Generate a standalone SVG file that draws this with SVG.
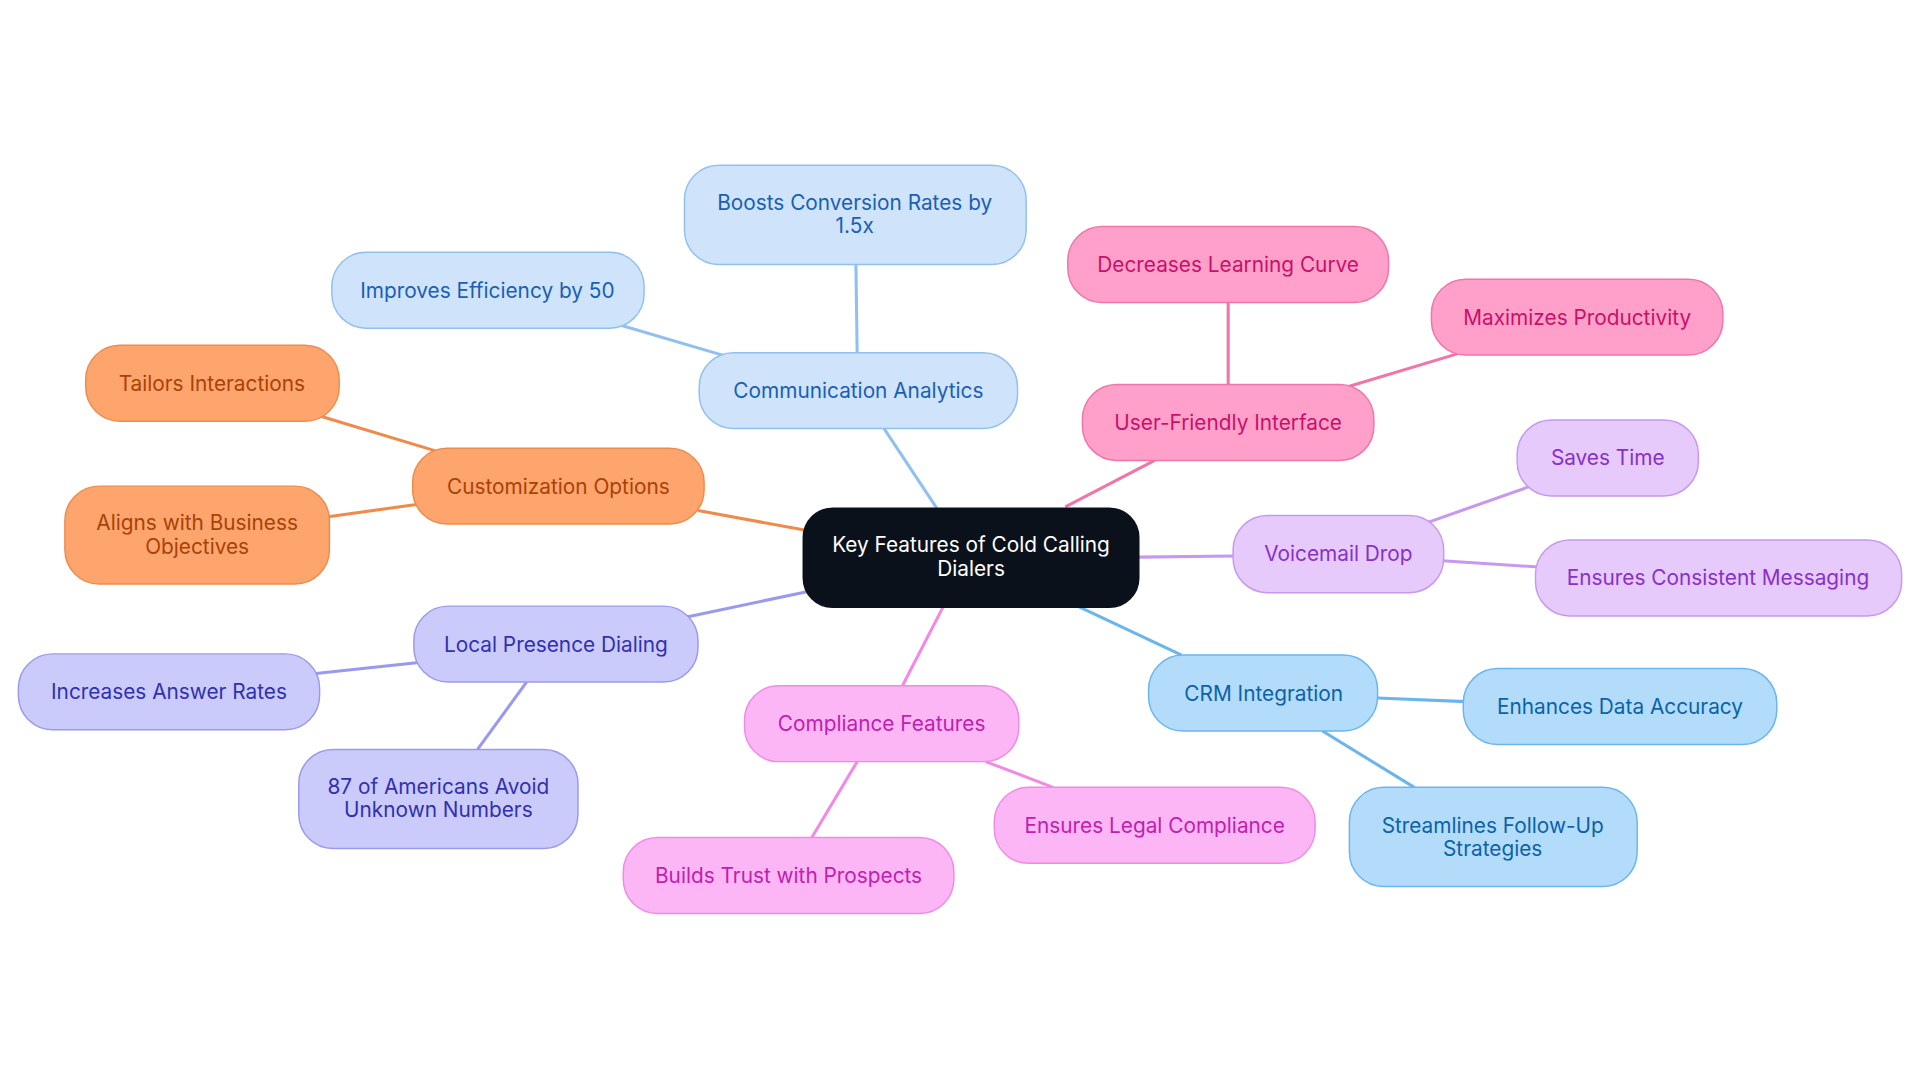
<svg xmlns="http://www.w3.org/2000/svg" width="1920" height="1083" viewBox="0 0 1920 1083">
<style>
text{font-family:Inter,"Open Sans","Liberation Sans",sans-serif;font-size:17px;text-anchor:middle;dominant-baseline:central}
.l{fill:none;stroke-width:2.5}
rect{stroke-width:1.2}
.a rect{fill:#cfe3fb;stroke:#90c0f0}.a text{fill:#1a5fb4}
.o rect{fill:#fea56d;stroke:#f08a4b}.o text{fill:#a84208}
.p rect{fill:#cbcbfb;stroke:#9999ee}.p text{fill:#3030b0}
.m rect{fill:#fdb6f5;stroke:#f08ae6}.m text{fill:#c020b0}
.c rect{fill:#b3dcfb;stroke:#6bb5ef}.c text{fill:#0b62a8}
.v rect{fill:#e6cafb;stroke:#c898f0}.v text{fill:#8a2fc8}
.u rect{fill:#fea0c9;stroke:#f075a8}.u text{fill:#c8106a}
</style>
<rect width="1920" height="1083" fill="#fff"/>
<g transform="scale(1.2245)">
<g id="connectors">
<path class="l" stroke="#90c0f0" d="M765 415L722 350M700 288L699 216M590 290L505 265"/>
<path class="l" stroke="#f08a4b" d="M658 433L570 417M355 368L262 340M340 412L268 422"/>
<path class="l" stroke="#9999ee" d="M660 483L560 504M342 541L258 550M430 557L390 612"/>
<path class="l" stroke="#f08ae6" d="M770 496L737 560M700 622L663 684M805 622L860 643"/>
<path class="l" stroke="#6bb5ef" d="M880 495L965 535M1125 570L1197 573M1080 597L1155 643"/>
<path class="l" stroke="#c898f0" d="M930 455L1008 454M1165 427L1250 397M1178 458L1256 463"/>
<path class="l" stroke="#f075a8" d="M870 414L943 376M1003 314L1003 247M1100 316L1190 289"/>
</g>
<g id="center"><rect x="656" y="415" width="274" height="81" rx="24" fill="#0b111b" stroke="#0b111b"/><text x="793" y="445" fill="#fff">Key Features of Cold Calling</text><text x="793" y="464" fill="#fff">Dialers</text></g>
<g id="n1" class="a"><rect x="571" y="288" width="260" height="62" rx="28"/><text x="701" y="319">Communication Analytics</text></g>
<g id="n1a" class="a"><rect x="559" y="135" width="279" height="81" rx="28"/><text x="698" y="165">Boosts Conversion Rates by</text><text x="698" y="184">1.5x</text></g>
<g id="n1b" class="a"><rect x="271" y="206" width="255" height="62" rx="28"/><text x="398" y="237">Improves Efficiency by 50</text></g>
<g id="n2" class="o"><rect x="337" y="366" width="238" height="62" rx="28"/><text x="456" y="397">Customization Options</text></g>
<g id="n2a" class="o"><rect x="70" y="282" width="207" height="62" rx="28"/><text x="173" y="313">Tailors Interactions</text></g>
<g id="n2b" class="o"><rect x="53" y="397" width="216" height="80" rx="28"/><text x="161" y="427">Aligns with Business</text><text x="161" y="446">Objectives</text></g>
<g id="n3" class="p"><rect x="338" y="495" width="232" height="62" rx="28"/><text x="454" y="526">Local Presence Dialing</text></g>
<g id="n3a" class="p"><rect x="15" y="534" width="246" height="62" rx="28"/><text x="138" y="565">Increases Answer Rates</text></g>
<g id="n3b" class="p"><rect x="244" y="612" width="228" height="81" rx="28"/><text x="358" y="642">87 of Americans Avoid</text><text x="358" y="661">Unknown Numbers</text></g>
<g id="n4" class="m"><rect x="608" y="560" width="224" height="62" rx="28"/><text x="720" y="591">Compliance Features</text></g>
<g id="n4a" class="m"><rect x="509" y="684" width="270" height="62" rx="28"/><text x="644" y="715">Builds Trust with Prospects</text></g>
<g id="n4b" class="m"><rect x="812" y="643" width="262" height="62" rx="28"/><text x="943" y="674">Ensures Legal Compliance</text></g>
<g id="n5" class="c"><rect x="938" y="535" width="187" height="62" rx="28"/><text x="1032" y="566">CRM Integration</text></g>
<g id="n5a" class="c"><rect x="1195" y="546" width="256" height="62" rx="28"/><text x="1323" y="577">Enhances Data Accuracy</text></g>
<g id="n5b" class="c"><rect x="1102" y="643" width="235" height="81" rx="28"/><text x="1219" y="674">Streamlines Follow-Up</text><text x="1219" y="693">Strategies</text></g>
<g id="n6" class="v"><rect x="1007" y="421" width="172" height="63" rx="28"/><text x="1093" y="452">Voicemail Drop</text></g>
<g id="n6a" class="v"><rect x="1239" y="343" width="148" height="62" rx="28"/><text x="1313" y="374">Saves Time</text></g>
<g id="n6b" class="v"><rect x="1254" y="441" width="299" height="62" rx="28"/><text x="1403" y="472">Ensures Consistent Messaging</text></g>
<g id="n7" class="u"><rect x="884" y="314" width="238" height="62" rx="28"/><text x="1003" y="345">User-Friendly Interface</text></g>
<g id="n7a" class="u"><rect x="872" y="185" width="262" height="62" rx="28"/><text x="1003" y="216">Decreases Learning Curve</text></g>
<g id="n7b" class="u"><rect x="1169" y="228" width="238" height="62" rx="28"/><text x="1288" y="259">Maximizes Productivity</text></g>
</g>
</svg>
